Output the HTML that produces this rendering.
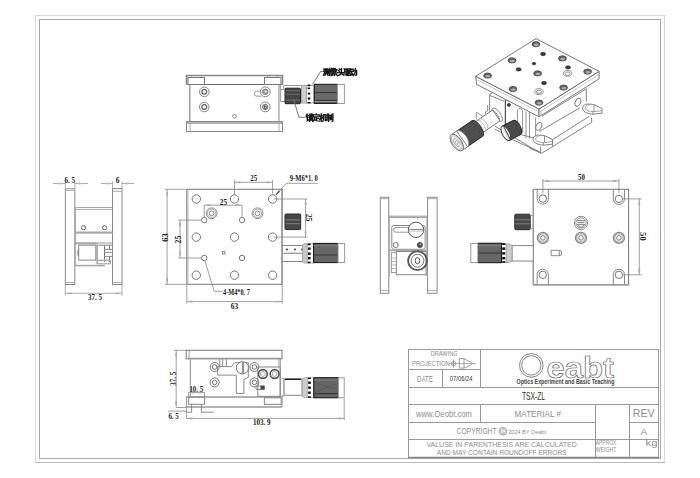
<!DOCTYPE html>
<html><head><meta charset="utf-8">
<style>
html,body{margin:0;padding:0;background:#fff;width:700px;height:478px;overflow:hidden}
svg{display:block}
text{font-family:"Liberation Sans",sans-serif}
.dm text{font-family:"Liberation Serif",serif;font-weight:bold;font-size:9.2px;fill:#1a1a1a}
.cad text{font-family:"Liberation Sans",sans-serif;fill:#8c8c8c}
</style></head><body>
<svg width="700" height="478" viewBox="0 0 700 478">
<rect width="700" height="478" fill="#fff"/>
<!-- frames -->
<rect x="35.5" y="15.5" width="629" height="447" fill="none" stroke="#d8d8d8" stroke-width="1"/>
<line x1="35" y1="462.5" x2="665" y2="462.5" stroke="#bbb"/>
<rect x="39.5" y="19.5" width="621" height="439" fill="none" stroke="#aaa" stroke-width="1"/>

<!-- VIEW 1: top elevation with micrometer -->
<g id="v1" fill="none" stroke="#777" stroke-width="1">
  <!-- top plate -->
  <path d="M186.5 84.5 V75.5 H282.5 V84.5" stroke="#888" stroke-width="1.6"/>
  <line x1="186.5" y1="84.5" x2="282.5" y2="84.5" stroke="#666"/>
  <rect x="188" y="77.5" width="16.5" height="7"/>
  <rect x="264.5" y="77.5" width="16.5" height="7"/>
  <path d="M191.5 75.5 V77.5 M201.5 75.5 V77.5 M267.5 75.5 V77.5 M277.5 75.5 V77.5" stroke="#999"/>
  <!-- body -->
  <line x1="189.8" y1="84.5" x2="189.8" y2="121.5" stroke="#999" stroke-width="1.4"/>
  <line x1="279" y1="84.5" x2="279" y2="121.5" stroke="#888"/>
  <!-- bottom plate -->
  <rect x="186.5" y="121.5" width="96" height="10" stroke="#888"/>
  <line x1="186.5" y1="123" x2="282.5" y2="123" stroke="#999" stroke-width="1.5"/>
  <line x1="190" y1="123" x2="190" y2="131.5" stroke="#aaa"/>
  <line x1="279" y1="123" x2="279" y2="131.5" stroke="#aaa"/>
  <!-- holes -->
  <g stroke="#666">
    <circle cx="204.3" cy="91.8" r="4.8" stroke="#888"/><circle cx="204.3" cy="91.8" r="2.4" stroke-width="1.3"/>
    <circle cx="204.3" cy="107" r="4.8" stroke="#888"/><circle cx="204.3" cy="107" r="2.4" stroke-width="1.3"/>
    <circle cx="265.3" cy="91.8" r="4.9" fill="#fff" stroke="#888"/><circle cx="265.3" cy="91.8" r="2.7" fill="#aaa" stroke="#777"/><circle cx="265.8" cy="91.6" r="0.9" fill="#eee" stroke="none"/>
    <circle cx="265.2" cy="106.9" r="4.9" stroke="#888"/><circle cx="265.2" cy="106.9" r="2.7" fill="#bbb" stroke="#777"/><path d="M264.6 105.3 V108.4 M264.6 106.5 A1.2 1.2 0 1 1 264.6 108.6" stroke="#444" stroke-width="0.8"/>
  </g>
  <path d="M261 91.2 H256.8 A2.5 2.5 0 0 0 256.8 96.2 H261.5" stroke="#999"/>
  <circle cx="234.5" cy="116.3" r="1.8" stroke="#888"/>
  <!-- micrometer -->
  <path d="M280.6 84.5 V101.5 H285 M280.6 89.5 H283.6 V85.5 H302.6" stroke="#999"/>
  <rect x="285" y="88.2" width="15.5" height="15.5" rx="1" fill="#444" stroke="#222"/>
  <path d="M285.5 90.8 H300 M285.5 94.3 H300 M285.5 100.2 H300" stroke="#777" stroke-width="0.8"/>
  <rect x="301.5" y="85.5" width="5" height="17.5" fill="#ccc" stroke="#aaa"/>
  <rect x="306.5" y="85.5" width="7.3" height="17.5" fill="#fff" stroke="#aaa"/>
  <g fill="#111" stroke="none">
    <rect x="307.5" y="84.6" width="3" height="1.6"/>
    <rect x="307.5" y="87.5" width="2.6" height="1.6"/>
    <ellipse cx="309" cy="93.6" rx="1.3" ry="1.2"/>
    <ellipse cx="309" cy="98.5" rx="1.3" ry="1.2"/>
    <rect x="307.5" y="102" width="3" height="1.4"/>
  </g>
  <circle cx="302.2" cy="100.8" r="0.9" fill="#e0b000" stroke="none"/>
  <rect x="314.3" y="84.3" width="23.2" height="19.1" fill="#6a6a6a" stroke="#111"/>
  <path d="M314.3 92.6 H337.5 M314.3 100.3 H337.5" stroke="#333"/>
  <path d="M314.3 101.6 H337.5" stroke="#999" stroke-width="0.8"/>
  <rect x="337.5" y="84.5" width="6.9" height="19" fill="#fff" stroke="#999"/>
  <!-- leaders -->
  <path d="M322.8 71.5 H320.6 L312.6 84.3" stroke="#777"/>
  <path d="M293.5 99 L299 117.3 H304.8" stroke="#777"/>
</g>

<!-- chinese labels -->
<g fill="none" stroke="#1a1a1a" stroke-width="1.35" stroke-linecap="square">
  <!-- 测 -->
  <g transform="translate(323.2,68.2)">
    <path d="M0.6 0.8 L1.2 1.4 M0.4 2.8 L1 3.4 M0.2 7 L1.3 4.6 M2 0.7 H4.2 V5.2 H2 Z M3.1 1.6 V4.4 M2.5 5.4 L1.7 7.2 M3.8 5.4 L4.6 7 M5.4 1.2 V5 M6.5 0.3 V7.2 L5.8 7"/>
  </g>
  <!-- 微 -->
  <g transform="translate(330.2,68.2)">
    <path d="M1.3 0.3 L0.3 1.8 M1.4 2.2 L0.2 3.8 M0.9 3 V7.4 M2.2 0.4 V1.8 H4 V0.4 M3.1 0.2 V1.8 M1.9 2.8 H4.2 M2.5 3.7 V5.5 L2 7 M2.5 3.7 H3.8 V6.8 H4.2 M5.2 0.3 L4.6 2.2 M4.9 1.5 H6.9 M6.3 1.6 Q6 5 4.4 7.2 M5 3.6 L6.9 7.2"/>
  </g>
  <!-- 头 -->
  <g transform="translate(337.2,68.2)">
    <path d="M2.1 0.7 L2.9 1.5 M1.5 2.4 L2.3 3.3 M0.3 4.4 H6.8 M4.3 0.2 V4.4 Q3.8 6.6 0.6 7.4 M4.7 5.6 L6.6 7.2"/>
  </g>
  <!-- 驱 -->
  <g transform="translate(343.8,68.2)">
    <path d="M0.4 0.6 H2.6 L2.4 3.2 M0.8 0.6 V3.8 H3 V6.5 Q3 7.3 2.2 7 M0.3 5.6 H2.3 M6.8 0.6 H3.9 V7.1 H6.9 M4.5 2 L6.5 5.8 M6.3 2 L4.5 5.8"/>
  </g>
  <!-- 动 -->
  <g transform="translate(350,68.2)">
    <path d="M0.5 1 H3 M0.2 3 H3.3 M1.8 3 L0.5 6.5 H3.2 M2.6 5.2 L3.3 6.8 M3.8 2.3 H6.6 V6.5 Q6.6 7.3 5.8 7 M5.3 0.3 V3.5 Q5 6 3.6 7.3"/>
  </g>
  <!-- 锁 -->
  <g transform="translate(306,113.8)">
    <path d="M1.2 0.3 L0.2 2 M0.6 1.6 H2.3 M0.3 3.3 H2.2 M1.3 1.6 V6.9 L2.4 6.1 M3.8 0.4 L4.3 1.3 M5.3 0.2 V1.7 M6.8 0.4 L6.3 1.3 M3.7 2 H6.6 V6.2 H3.7 Z M3.7 3.4 H6.6 M3.7 4.8 H6.6 M4.4 6.3 L3.4 7.6 M5.8 6.3 L6.9 7.6"/>
  </g>
  <!-- 定 -->
  <g transform="translate(312.8,113.8)">
    <path d="M3.5 0.2 V1 M0.5 2.2 V1 H6.5 V2.2 M1.2 3 H5.8 M3.5 3 V6.6 M3.5 4.8 H5.6 M1.8 4 Q1.8 6.3 0.2 7.5 M1.8 6.3 Q3 7.3 6.8 7.3"/>
  </g>
  <!-- 机 -->
  <g transform="translate(319.6,113.8)">
    <path d="M0.2 2 H3 M1.6 0.2 V7.6 M1.6 2.5 L0.2 5.6 M1.8 3 L2.9 4.3 M3.9 0.8 V5 Q3.9 6.5 3.1 7.4 M3.9 0.8 H5.6 V6.8 H6.9 V5.8"/>
  </g>
  <!-- 制 -->
  <g transform="translate(326.4,113.8)">
    <path d="M1 0.3 L0.5 1.5 M0.3 1.6 H4 M0.2 3 H4.2 M2.2 0.3 V7.6 M0.6 4.3 V6.3 M0.6 4.3 H3.8 V6.1 M5.1 1.2 V5.6 M6.5 0.2 V7 L5.7 7.5"/>
  </g>
</g>

<!-- VIEW 3: plan view -->
<g id="v3" fill="none" stroke="#777" stroke-width="1">
  <rect x="186.8" y="189.3" width="95.2" height="95" stroke="#777"/>
  <line x1="187.8" y1="190" x2="187.8" y2="284" stroke="#bbb" stroke-width="1.2"/>
  <line x1="282.2" y1="189" x2="282.2" y2="284.5" stroke="#999" stroke-width="1.3"/>
  <g stroke="#777">
    <circle cx="196.3" cy="199" r="4.2"/><circle cx="234.5" cy="199" r="4.2"/><circle cx="272.6" cy="199" r="4.2"/>
    <circle cx="196.3" cy="237.1" r="4.2"/><circle cx="234.5" cy="237.1" r="4.2"/><circle cx="272.6" cy="237.1" r="4.2"/>
    <circle cx="196.3" cy="275.2" r="4.2"/><circle cx="234.5" cy="275.2" r="4.2"/><circle cx="272.6" cy="275.2" r="4.2"/>
    <circle cx="204.2" cy="220.1" r="2.7"/><circle cx="242.1" cy="220.1" r="2.7"/>
    <circle cx="204.3" cy="258" r="2.7"/><circle cx="242" cy="258" r="2.7"/>
  </g>
  <g stroke="#888">
    <circle cx="211.6" cy="213.3" r="5.4"/><circle cx="211.6" cy="213.3" r="4.2" stroke="#aaa"/><circle cx="211.6" cy="213.3" r="2.4"/>
    <circle cx="257.5" cy="213.3" r="5.4"/><circle cx="257.5" cy="213.3" r="4.2" stroke="#aaa"/><circle cx="257.5" cy="213.3" r="2.4"/>
  </g>
  <rect x="222.5" y="251.6" width="2.4" height="2.4" stroke="#888"/>
  <!-- dims -->
  <g stroke="#888" stroke-width="0.8">
    <path d="M165 189.3 H186 M165 284.3 H186 M167.1 189.3 V284.3"/>
    <path d="M178 220.1 H201.5 M178 258 H201.6 M180 220.1 V258"/>
    <path d="M204.2 205.2 V217.4 M242.1 205.2 V217.4 M204.2 205.2 H242.1"/>
    <path d="M234.5 180 V194.8 M272.6 180 V194.8 M234.5 182.3 H272.6"/>
    <path d="M318 183.3 H286.2 L275.5 195.5"/>
    <path d="M276 194.9 L278.6 190.9 L279.6 191.7 Z" fill="#444" stroke="#444" stroke-width="0.6"/>
    <path d="M273.8 199 H307.5 M273.8 237.1 H307.5 M305.6 199 V237.5"/>
    <path d="M186.8 285 V303.5 M282.2 285 V303.5 M186.8 301.6 H282.2"/>
    <path d="M205 260.8 L214.2 291.3 H222.5"/>
  </g>
  <!-- lock knob -->
  <rect x="285" y="214" width="15.7" height="15.6" rx="1" fill="#474747" stroke="#2a2a2a"/>
  <path d="M285.5 219.9 H300.2 M285.5 223.7 H300.2" stroke="#888" stroke-width="0.9"/>
  <!-- micrometer -->
  <rect x="282.3" y="245.5" width="21" height="16" fill="#fff" stroke="#888"/>
  <path d="M283 253.4 H302" stroke="#999"/>
  <path d="M285 252.5 l1 1 1-1 1 1 1-1 1 1 1-1 1 1 1-1 1 1 1-1 1 1 1-1 1 1 1-1 1 1 1-1" stroke="#999" stroke-width="0.7"/>
  <path d="M287 248.5 l1 1.5 -2 0z M295 248.5 l1 1.5 -2 0z M302 248.5 l1 1.5 -2 0z" fill="#333" stroke="#333" stroke-width="0.5"/>
  <path d="M302.6 245 L304 243.8 H307.4 V263 H304 L302.6 262 Z" fill="#c8c8c8" stroke="#999" stroke-width="0.8"/>
  <rect x="307.4" y="243.8" width="6.2" height="19.2" fill="#fff" stroke="#aaa" stroke-width="0.8"/>
  <g fill="#111" stroke="none">
    <rect x="307.8" y="243.4" width="2.8" height="1.8"/>
    <rect x="308" y="247.5" width="2.6" height="2.2"/>
    <rect x="308" y="252.5" width="2.6" height="2.4"/>
    <rect x="308" y="257" width="2.6" height="2.4"/>
    <rect x="307.8" y="261.6" width="2.8" height="1.6"/>
  </g>
  <rect x="313.6" y="243.4" width="24.4" height="19.2" fill="#666" stroke="#111"/>
  <path d="M313.6 255 H338" stroke="#333"/>
  <path d="M313.6 245.8 H338" stroke="#888" stroke-width="0.8"/>
  <rect x="338" y="243.5" width="6.6" height="19" fill="#fff" stroke="#999"/>
</g>

<!-- VIEW 2: left side -->
<g id="v2" fill="none" stroke="#777" stroke-width="1">
  <rect x="65.3" y="188.8" width="9.5" height="95.7" stroke="#888"/>
  <line x1="65.3" y1="282.6" x2="74.8" y2="282.6" stroke="#aaa"/>
  <line x1="65.3" y1="190.5" x2="74.8" y2="190.5" stroke="#bbb"/>
  <rect x="112.5" y="188.6" width="9.5" height="95.9" stroke="#888"/>
  <line x1="112.5" y1="191.3" x2="122" y2="191.3" stroke="#aaa"/>
  <line x1="112.5" y1="282.6" x2="122" y2="282.6" stroke="#aaa"/>
  <line x1="75.6" y1="207" x2="75.6" y2="266" stroke="#aaa"/>
  <path d="M74.8 207.5 H112.5 M74.8 209.4 H112.5" stroke="#aaa"/>
  <circle cx="83.6" cy="227.7" r="2.1" stroke="#666"/>
  <circle cx="104.5" cy="227.7" r="2.1" stroke="#666"/>
  <line x1="74.8" y1="232.6" x2="112.5" y2="232.6" stroke="#aaa" stroke-width="2.2"/>
  <path d="M74.8 243.3 H97.8" stroke="#aaa" stroke-width="2.2"/>
  <path d="M97.8 243 H112.5" stroke="#aaa" stroke-width="1.2"/>
  <rect x="78.7" y="245.2" width="17.1" height="14.9" stroke="#888"/>
  <path d="M78.7 249 Q77 252.5 78.7 256" stroke="#888" stroke-width="1.2"/>
  <path d="M97.1 245.2 V264 M104.5 245.2 V262 M109.5 245.2 V249.4 M109.5 256.4 V262" stroke="#777"/>
  <path d="M97.1 245.2 H112 M104.5 249.4 H112.5 M104.5 252.4 H112.5 M104.5 256.4 H112.5" stroke="#888"/>
  <path d="M97 260.4 H110.5" stroke="#aaa" stroke-width="1.6"/>
  <path d="M97 263.8 H110.5 V260" stroke="#999"/>
  <path d="M74.8 265.6 H105" stroke="#aaa" stroke-width="1.6"/>
  <g stroke="#999" stroke-width="0.8">
    <path d="M65.3 188 V181.5 M74.8 188 V181.5 M53 183.5 H65.3 M74.8 183.5 H88"/>
    <path d="M112.5 188 V181.5 M122 188 V181.5 M101 183.5 H112.5 M122 183.5 H134"/>
    <path d="M65.3 285 V295.5 M122 285 V295.5 M65.3 293.3 H122"/>
  </g>
  <g fill="#bbb" stroke="none">
    <ellipse cx="60.5" cy="183.5" rx="2" ry="0.9"/><ellipse cx="79.5" cy="183.5" rx="2" ry="0.9"/>
    <ellipse cx="107.5" cy="183.5" rx="2" ry="0.9"/><ellipse cx="127" cy="183.5" rx="2" ry="0.9"/>
  </g>
</g>

<!-- VIEW 4: right side -->
<g id="v4" fill="none" stroke="#777" stroke-width="1">
  <rect x="380.3" y="197.3" width="8.5" height="96" stroke="#888"/>
  <line x1="380.3" y1="198.7" x2="388.8" y2="198.7" stroke="#aaa"/>
  <line x1="380.3" y1="290.3" x2="388.8" y2="290.3" stroke="#aaa"/>
  <rect x="427.6" y="197.3" width="9.5" height="96" stroke="#888"/>
  <line x1="427.6" y1="198.7" x2="437.1" y2="198.7" stroke="#aaa"/>
  <line x1="427.6" y1="290.3" x2="437.1" y2="290.3" stroke="#aaa"/>
  <path d="M388.8 216.2 H427.6 M388.8 217.4 H427.6" stroke="#999"/>
  <path d="M389.6 217 V276 M426.8 217 V276" stroke="#aaa"/>
  <rect x="391.8" y="225.5" width="33.4" height="23.8" rx="2" stroke="#888"/>
  <path d="M413.5 227.4 H396 A2.4 2.4 0 0 0 396 232.2 H413.5" stroke="#999"/>
  <circle cx="416" cy="229.8" r="7.7" fill="#fff" stroke="#555"/>
  <path d="M408.5 229.4 H423.5" stroke="#888"/>
  <path d="M408.6 231 H423.4" stroke="#bbb"/>
  <circle cx="395.7" cy="245" r="2.5" stroke="#777"/>
  <circle cx="419.9" cy="245" r="2.5" fill="#555" stroke="#444"/>
  <circle cx="420.4" cy="244.4" r="0.8" fill="#ccc" stroke="none"/>
  <line x1="390" y1="250.4" x2="426.5" y2="250.4" stroke="#aaa" stroke-width="1.6"/>
  <rect x="396.4" y="251.5" width="29.6" height="23.2" stroke="#888"/>
  <rect x="391.4" y="252.6" width="5" height="19.9" stroke="#999"/>
  <path d="M391.4 258 H396.4 M391.4 261.5 H396.4 M391.4 265 H396.4 M391.4 268.5 H396.4" stroke="#aaa" stroke-width="0.8"/>
  <circle cx="417.5" cy="260.7" r="9.4" stroke="#5a5a5a" stroke-width="1.9"/>
  <circle cx="417.5" cy="260.7" r="6.4" stroke="#777"/>
  <ellipse cx="417.5" cy="260.7" rx="2.3" ry="3.1" stroke="#555"/>
  <path d="M417.8 218.5 V219.8" stroke="#aaa"/>
</g>

<!-- VIEW 5: rear -->
<g id="v5" fill="none" stroke="#777" stroke-width="1">
  <rect x="533.3" y="189.3" width="95.3" height="95.5" stroke="#777"/>
  <line x1="533.3" y1="189" x2="533.3" y2="285" stroke="#999" stroke-width="1.3"/>
  <line x1="533" y1="284.8" x2="629" y2="284.8" stroke="#999" stroke-width="1.4"/>
  <g stroke="#888">
    <path d="M537.2 189.3 V198.6 A5.6 5.6 0 0 0 548.4 198.6 V189.3"/>
    <path d="M613.3 189.3 V198.9 A5.6 5.6 0 0 0 624.5 198.9 V189.3"/>
    <path d="M537.1 284.8 V274.8 A5.6 5.6 0 0 1 548.3 274.8 V284.8"/>
    <path d="M613.3 284.8 V274.8 A5.6 5.6 0 0 1 624.5 274.8 V284.8"/>
  </g>
  <g stroke="#777">
    <circle cx="542.8" cy="198.6" r="3.7"/><circle cx="618.9" cy="198.9" r="3.7"/>
    <circle cx="542.7" cy="274.8" r="3.7"/><circle cx="618.9" cy="274.8" r="3.7"/>
  </g>
  <circle cx="581" cy="222.9" r="6.6" stroke="#888"/>
  <circle cx="581" cy="222.9" r="5.1" stroke="#999"/>
  <path d="M577 220.7 H585 M577 224.7 H585 M577.5 222.7 H584.5" stroke="#777"/>
  <path d="M577.8 224.7 A3.3 3.3 0 0 0 584.2 224.7" stroke="#888"/>
  <g>
    <circle cx="542.9" cy="237.9" r="5.5" stroke="#888" stroke-width="1.3"/><circle cx="542.9" cy="237.9" r="4.2" stroke="#999"/><circle cx="542.9" cy="237.9" r="2.3" stroke="#777"/>
    <circle cx="581" cy="237.9" r="5.5" stroke="#888" stroke-width="1.3"/><circle cx="581" cy="237.9" r="4.2" stroke="#999"/><circle cx="581" cy="237.9" r="2.3" stroke="#777"/>
    <circle cx="618.9" cy="237.9" r="5.5" stroke="#888" stroke-width="1.3"/><circle cx="618.9" cy="237.9" r="4.2" stroke="#999"/><circle cx="618.9" cy="237.9" r="2.3" stroke="#777"/>
  </g>
  <path d="M551.1 250.3 H559.3 A2.4 2.7 0 0 1 559.3 255.7 H551.1 Z M559.3 250.3 V255.7" stroke="#888"/>
  <!-- dims -->
  <g stroke="#888" stroke-width="0.8">
    <path d="M542.9 179 V193 M618.9 179 V193 M542.9 181 H618.9"/>
    <path d="M623 198.9 H641.5 M623 274.8 H641.5 M639.3 198.9 V274.8"/>
  </g>
  <!-- lock knob -->
  <rect x="514.8" y="214.2" width="15.4" height="15.5" rx="1" fill="#474747" stroke="#2a2a2a"/>
  <path d="M515.3 219.8 H529.8 M515.3 223.8 H529.8" stroke="#888" stroke-width="0.9"/>
  <path d="M530.2 215.5 H533.3 M530.2 228.5 H533.3" stroke="#999"/>
  <!-- micrometer -->
  <rect x="512" y="245.6" width="21.3" height="15.4" fill="#fff" stroke="#888"/>
  <path d="M506 244 H509.5 L512 245.6 V261 L509.5 262.6 H506 Z" fill="#ccc" stroke="#999" stroke-width="0.8"/>
  <rect x="501.6" y="243.4" width="4.4" height="19.2" fill="#fff" stroke="#aaa" stroke-width="0.8"/>
  <g fill="#111" stroke="none">
    <rect x="502.2" y="243.2" width="3.2" height="1.8"/>
    <rect x="502.2" y="247.4" width="3" height="2.4"/>
    <rect x="502.2" y="252.2" width="3" height="2.4"/>
    <rect x="502.2" y="257" width="3" height="2.4"/>
    <rect x="502.2" y="261.2" width="3.2" height="1.6"/>
  </g>
  <rect x="477.9" y="243.2" width="23.7" height="19.5" fill="#666" stroke="#111"/>
  <path d="M477.9 253 H501.6" stroke="#333"/>
  <path d="M477.9 245.6 H501.6" stroke="#888" stroke-width="0.8"/>
  <rect x="470.8" y="243.5" width="7.1" height="19" fill="#fff" stroke="#999"/>
</g>

<!-- VIEW 6: bottom elevation -->
<g id="v6" fill="none" stroke="#777" stroke-width="1">
  <rect x="186.2" y="350.3" width="95.8" height="8.4" stroke="#777"/>
  <line x1="186.2" y1="358.6" x2="282" y2="358.6" stroke="#999" stroke-width="1.5"/>
  <line x1="189.1" y1="350.3" x2="189.1" y2="358.6" stroke="#999"/>
  <line x1="190.4" y1="359" x2="190.4" y2="397" stroke="#aaa" stroke-width="1.4"/>
  <line x1="280.2" y1="359" x2="280.2" y2="397" stroke="#888"/>
  <line x1="278.8" y1="359" x2="278.8" y2="367" stroke="#aaa"/>
  <!-- base -->
  <line x1="186.4" y1="397" x2="282" y2="397" stroke="#999" stroke-width="1.5"/>
  <line x1="186.4" y1="406.9" x2="282" y2="406.9" stroke="#999" stroke-width="1.5"/>
  <line x1="186.4" y1="396" x2="186.4" y2="418.4" stroke="#999"/>
  <line x1="282" y1="396" x2="282" y2="407" stroke="#888"/>
  <rect x="188.6" y="397" width="16" height="7.3" stroke="#888"/>
  <rect x="264.4" y="397.8" width="16.8" height="6.6" stroke="#888"/>
  <path d="M191.6 404.3 V412.2 H186.4 M201.4 404.3 V412.2 H213.8" stroke="#888"/>
  <!-- internal -->
  <g stroke="#777">
    <circle cx="214.6" cy="367" r="4.5"/><circle cx="214.6" cy="367" r="2.3"/>
    <circle cx="214.6" cy="382.4" r="4.5"/><circle cx="214.6" cy="382.4" r="2.3"/>
    <circle cx="254.4" cy="367" r="4.5"/><circle cx="254.4" cy="367" r="2.3"/>
    <circle cx="254.4" cy="382.4" r="4.5"/><circle cx="254.4" cy="382.4" r="2.3"/>
  </g>
  <path d="M219.8 359 V366.6 M222.7 359 V366.6 M226.3 359 V366.6" stroke="#888"/>
  <path d="M217.6 366.6 H231.5 L234.4 362.7 H248.3 V377.3 L243.9 379.5 V393.4 H236.3 V375.1 H217.6 Z" stroke="#888"/>
  <circle cx="242.4" cy="367.8" r="6.1" fill="#fff" stroke="#777"/>
  <path d="M242.4 362 V373.6 M243.6 362.2 V373.4" stroke="#888"/>
  <rect x="257.8" y="367" width="22.4" height="29.3" stroke="#888"/>
  <circle cx="262.9" cy="374" r="4.4" stroke="#555" stroke-width="1.6"/><circle cx="262.9" cy="374" r="2.4" stroke="#aaa"/>
  <circle cx="274.6" cy="374" r="4.4" stroke="#555" stroke-width="1.6"/><circle cx="274.6" cy="374" r="2.4" stroke="#aaa"/>
  <path d="M256 386 H261 V389.5 H256 Z" stroke="#888"/>
  <rect x="261.2" y="386" width="3" height="3.2" fill="#444" stroke="#444"/>
  <!-- micrometer -->
  <path d="M282 378.5 H284.1 V395.8 H282" stroke="#999"/>
  <rect x="284.1" y="379.2" width="18" height="16.1" fill="#fff" stroke="#888"/>
  <line x1="285" y1="379.2" x2="301" y2="379.2" stroke="#111" stroke-width="1.4"/>
  <path d="M302.1 379 L304 377.8 H307.4 V397.6 H304 L302.1 396 Z" fill="#ccc" stroke="#999" stroke-width="0.8"/>
  <rect x="307.4" y="377.8" width="6.2" height="19.8" fill="#fff" stroke="#aaa" stroke-width="0.8"/>
  <g fill="#111" stroke="none">
    <rect x="308" y="377.5" width="2.8" height="1.6"/>
    <rect x="308.2" y="381.5" width="2.6" height="2.4"/>
    <rect x="308.2" y="386.5" width="2.6" height="2.4"/>
    <rect x="308.2" y="391.5" width="2.6" height="2.4"/>
    <rect x="308" y="396.3" width="2.8" height="1.6"/>
  </g>
  <rect x="313.8" y="377.7" width="24.5" height="20.1" fill="#666" stroke="#111"/>
  <path d="M313.8 380 H338.3" stroke="#888" stroke-width="0.8"/>
  <path d="M315 383 L336 389 M315 392 L336 384" stroke="#555" stroke-width="0.8"/>
  <path d="M313.8 393.6 H338.3" stroke="#333"/>
  <rect x="338.3" y="377.8" width="5.9" height="19.9" fill="#fff" stroke="#999"/>
  <!-- dims -->
  <g stroke="#888" stroke-width="0.8">
    <path d="M174 350.3 H186 M176.2 350.3 V407.5 H186.4"/>
    <path d="M188.6 392.5 H204.6 M188.6 392.5 V397 M204.6 392.5 V397"/>
    <path d="M168 411.1 H186.4"/>
    <path d="M186.4 418.4 H344.2 M344.2 398.5 V420"/>
  </g>
</g>

<!-- VIEW 7: isometric -->
<g id="v7" fill="none" stroke="#666" stroke-width="0.9" stroke-linejoin="round">
  <!-- base (lower) -->
  <g stroke="#777">
    <path d="M495 126.3 L541 153.3 M495 129.2 L512 138.5 M512.3 139.5 L539.9 152.2"/>
    <path d="M540.7 153.3 V147 M541.5 153.3 L552.6 146.6 L591.6 122.4 V117.5"/>
    <path d="M552.6 139.5 L589 116.5"/>
    <path d="M552.6 139.5 V146.6"/>
    <!-- front U ear -->
    <path d="M552.5 139.5 L544.5 135.6 Q533 133.3 533 139.3 Q533.8 144.6 543.5 145.2 L552.5 144.2 Z" fill="#fff"/>
    <path d="M544.5 135.6 Q535.5 134.8 535.6 139.5 Q537 142.5 544.5 142.6 L552.5 141.6" stroke="#999"/>
    <path d="M544.5 135.6 V142.6 M543.5 145.2 V142.6" stroke="#888"/>
    <!-- right U ear -->
    <path d="M602 108.5 L594 104.6 Q582.5 102.3 582.5 108.3 Q583.3 113.6 593 114.2 L602 113.2 Z" fill="#fff"/>
    <path d="M594 104.6 Q585 103.8 585.1 108.5 Q586.5 111.5 594 111.6 L602 110.6" stroke="#999"/>
    <path d="M594 104.6 V111.6 M593 114.2 V111.6" stroke="#888"/>
    <path d="M530 148.4 L540.7 152.8"/>
  </g>
  <!-- body -->
  <g stroke="#777">
    <path d="M541.9 116.2 L586.3 88.8 V101.5"/>
    <path d="M539.4 131.4 L580.3 107.5"/>
    <path d="M489.7 94.2 V112.2 M489.7 95.4 L504.3 101.3 M489.7 94.2 L492.6 92.5"/>
    <path d="M505.4 100 V127" stroke="#555" stroke-width="1.3"/>
    <path d="M505 100 L536.3 109.6" />
    <path d="M517.4 110 V133.2 M522.6 110.6 V133.2 M517.4 110 Q520 106.8 522.6 110.6" stroke="#888"/>
    <path d="M526 111.3 V138.4 M529.5 112.3 V138.4" stroke="#888"/>
    <path d="M535.6 117.5 V136.5" stroke="#888"/>
    <path d="M522 134.9 L533 137.8"/>
    <ellipse cx="538.8" cy="126.4" rx="2.6" ry="4.1" transform="rotate(25 538.8 126.4)" fill="#fff"/>
    <ellipse cx="577.9" cy="102.3" rx="2.6" ry="4.1" transform="rotate(25 577.9 102.3)" fill="#fff"/>
    <circle cx="508.9" cy="104.9" r="1.5" fill="#444" stroke="#333"/>
    <path d="M476.3 112.2 V119.5 M476.3 112.2 L483 116.4 M487.6 105 V111 L485.5 111.8 V114" stroke="#888"/>
  </g>
  <!-- top plate -->
  <path d="M475.7 76.3 L539 109 V116.8 L476.5 84.3 Z" fill="#fff" stroke="#666"/>
  <path d="M539 109 L599.1 71.3 V78.8 L539 116.8 Z" fill="#fff" stroke="#666"/>
  <path d="M536 38.6 L475.7 76.3 L539 109 L599.1 71.3 Z" fill="#fff" stroke="#666"/>
  <path d="M476.3 79.4 L539.2 112 L599.1 74.5" stroke="#bbb" stroke-width="0.8"/>
  <path d="M541 109.5 V116" stroke="#999" stroke-width="0.6"/>
  <!-- holes -->
  <g fill="#666" stroke="#444" stroke-width="0.8">
    <ellipse cx="536" cy="44.2" rx="3.9" ry="2.6"/>
    <ellipse cx="512" cy="60.4" rx="3.9" ry="2.6"/>
    <ellipse cx="562.4" cy="58.4" rx="3.9" ry="2.6"/>
    <ellipse cx="487.6" cy="75.6" rx="3.9" ry="2.6"/>
    <ellipse cx="537.6" cy="73.4" rx="3.9" ry="2.6"/>
    <ellipse cx="587.6" cy="71.6" rx="3.9" ry="2.6"/>
    <ellipse cx="513" cy="89" rx="3.9" ry="2.6"/>
    <ellipse cx="563.6" cy="87.6" rx="3.9" ry="2.6"/>
    <ellipse cx="539" cy="102.6" rx="3.9" ry="2.6"/>
  </g>
  <g fill="#aaa" stroke="none">
    <ellipse cx="536.3" cy="44.9" rx="2.4" ry="1.3"/>
    <ellipse cx="512.3" cy="61.1" rx="2.4" ry="1.3"/>
    <ellipse cx="562.7" cy="59.1" rx="2.4" ry="1.3"/>
    <ellipse cx="487.9" cy="76.3" rx="2.4" ry="1.3"/>
    <ellipse cx="537.9" cy="74.1" rx="2.4" ry="1.3"/>
    <ellipse cx="587.9" cy="72.3" rx="2.4" ry="1.3"/>
    <ellipse cx="513.3" cy="89.7" rx="2.4" ry="1.3"/>
    <ellipse cx="563.9" cy="88.3" rx="2.4" ry="1.3"/>
    <ellipse cx="539.3" cy="103.3" rx="2.4" ry="1.3"/>
  </g>
  <g fill="#3a3a3a" stroke="#222" stroke-width="0.6">
    <ellipse cx="543" cy="54" rx="2.5" ry="1.7"/>
    <ellipse cx="534" cy="63.6" rx="1.7" ry="1.3"/>
    <ellipse cx="518.6" cy="69.4" rx="2.5" ry="1.7"/>
    <ellipse cx="568" cy="67.4" rx="2.5" ry="1.7"/>
    <ellipse cx="544" cy="83" rx="2.5" ry="1.7"/>
  </g>
  <g fill="#fff" stroke="#777" stroke-width="0.8">
    <ellipse cx="567.6" cy="73.4" rx="4.2" ry="2.9"/><ellipse cx="567.6" cy="73.6" rx="2.6" ry="1.6"/>
    <ellipse cx="539" cy="91.6" rx="4.2" ry="2.9"/><ellipse cx="539" cy="91.8" rx="2.6" ry="1.6"/>
  </g>
  <!-- micrometer -->
  <g transform="translate(458.4 141.4) rotate(-34.4)">
    <ellipse cx="47" cy="0" rx="3.4" ry="8" fill="#fff" stroke="#888"/>
    <path d="M24 -6.6 H46 V6.6 H24 Z" fill="#fff" stroke="#777"/>
    <path d="M44.5 -6.6 A2.8 6.6 0 0 1 44.5 6.6" stroke="#888"/>
    <path d="M27.5 -6.6 A2.8 6.6 0 0 1 27.5 6.6 M30.5 -6.6 A2.8 6.6 0 0 1 30.5 6.6" stroke="#999" stroke-width="0.7"/>
    <path d="M4 -9.4 H23 V9.4 H4 Z" fill="#4a4a4a" stroke="#222"/>
    <path d="M23 -9.4 A3.8 9.4 0 0 1 23 9.4" fill="#4a4a4a" stroke="#222"/>
    <path d="M5 -7 H25 M5 -4.5 H26 M5 -2 H26.5 M5 0.5 H26.5 M5 3 H26 M5 5.5 H25.5 M5 8 H24" stroke="#5e5e5e" stroke-width="0.6"/>
    <path d="M-2 -9.6 H4.5 V9.6 H-2 Z" fill="#fff" stroke="none"/>
    <path d="M-2 -9.6 H4.5 M-2 9.6 H4.5" stroke="#777"/>
    <path d="M4.5 -9.6 A4.8 9.6 0 0 1 4.5 9.6 Z" stroke="#888" fill="#fff"/>
    <ellipse cx="-2" cy="0" rx="4.8" ry="9.6" fill="#fff" stroke="#666"/>
    <ellipse cx="-2" cy="0" rx="3.9" ry="7.8" fill="none" stroke="#999" stroke-width="0.7"/>
    <ellipse cx="-2" cy="0" rx="2.4" ry="4.6" fill="none" stroke="#888" stroke-width="0.7"/>
    <path d="M-2 -2.2 L-0.9 -1.1 V1.1 L-2 2.2 L-3.1 1.1 V-1.1 Z" stroke="#888" stroke-width="0.6"/>
  </g>
  <!-- lock knob -->
  <g transform="translate(505.8 133.2) rotate(-27)">
    <path d="M0 -8 H12.5 V8 H0 Z" fill="#454545" stroke="#222"/>
    <path d="M12.5 -8 A3.6 8 0 0 1 12.5 8" fill="#454545" stroke="#222"/>
    <path d="M1 -5.5 H14.5 M1 -3 H15.5 M1 -0.5 H16 M1 2 H15.8 M1 4.5 H15 M1 6.8 H14" stroke="#5a5a5a" stroke-width="0.6"/>
    <ellipse cx="0" cy="0" rx="3.6" ry="8" fill="#fff" stroke="#333"/>
    <path d="M1.2 -7.6 V7.6" stroke="#333" stroke-width="0.9"/>
    <path d="M-0.3 -7 V7" stroke="#bbb" stroke-width="0.5"/>
  </g>

</g>

<g fill="#aaa" stroke="none">
<ellipse cx="167.1" cy="193.8" rx="0.9" ry="2.2"/><ellipse cx="167.1" cy="279.8" rx="0.9" ry="2.2"/>
<ellipse cx="180" cy="224.6" rx="0.9" ry="2.2"/><ellipse cx="180" cy="253.5" rx="0.9" ry="2.2"/>
<ellipse cx="208.7" cy="205.2" rx="2.2" ry="0.9"/><ellipse cx="237.6" cy="205.2" rx="2.2" ry="0.9"/>
<ellipse cx="239.0" cy="182.3" rx="2.2" ry="0.9"/><ellipse cx="268.1" cy="182.3" rx="2.2" ry="0.9"/>
<ellipse cx="305.6" cy="203.5" rx="0.9" ry="2.2"/><ellipse cx="305.6" cy="232.6" rx="0.9" ry="2.2"/>
<ellipse cx="191.3" cy="301.6" rx="2.2" ry="0.9"/><ellipse cx="277.7" cy="301.6" rx="2.2" ry="0.9"/>
<ellipse cx="69.8" cy="293.3" rx="2.2" ry="0.9"/><ellipse cx="117.5" cy="293.3" rx="2.2" ry="0.9"/>
<ellipse cx="547.4" cy="181" rx="2.2" ry="0.9"/><ellipse cx="614.4" cy="181" rx="2.2" ry="0.9"/>
<ellipse cx="639.3" cy="203.4" rx="0.9" ry="2.2"/><ellipse cx="639.3" cy="270.3" rx="0.9" ry="2.2"/>
<ellipse cx="176.2" cy="354.8" rx="0.9" ry="2.2"/><ellipse cx="176.2" cy="403.0" rx="0.9" ry="2.2"/>
<ellipse cx="193.1" cy="392.5" rx="2.2" ry="0.9"/><ellipse cx="200.1" cy="392.5" rx="2.2" ry="0.9"/>
<ellipse cx="190.9" cy="418.4" rx="2.2" ry="0.9"/><ellipse cx="339.7" cy="418.4" rx="2.2" ry="0.9"/>
</g>
<g class="dm">
  <text x="250.3" y="181" textLength="6.9" lengthAdjust="spacingAndGlyphs">25</text>
  <text x="219.8" y="204.9" textLength="7.3" lengthAdjust="spacingAndGlyphs">25</text>
  <text transform="translate(167.5 241.8) rotate(-90)" textLength="8.4" lengthAdjust="spacingAndGlyphs">63</text>
  <text transform="translate(180.7 243.4) rotate(-90)" textLength="7.8" lengthAdjust="spacingAndGlyphs">25</text>
  <text transform="translate(306.3 214) rotate(90)" textLength="7.4" lengthAdjust="spacingAndGlyphs">25</text>
  <text x="230.8" y="309.1" textLength="7.4" lengthAdjust="spacingAndGlyphs">63</text>
  <text x="289.8" y="181" textLength="27.9" lengthAdjust="spacingAndGlyphs">9-M6*1. 0</text>
  <text x="223" y="295.2" textLength="26.9" lengthAdjust="spacingAndGlyphs">4-M4*0. 7</text>
  <text x="64.6" y="183" textLength="10.4" lengthAdjust="spacingAndGlyphs">6. 5</text>
  <text x="115.7" y="183" textLength="3.7" lengthAdjust="spacingAndGlyphs">6</text>
  <text x="87.9" y="299.8" textLength="14" lengthAdjust="spacingAndGlyphs">37. 5</text>
  <text x="578" y="180" textLength="6.8" lengthAdjust="spacingAndGlyphs">50</text>
  <text transform="translate(640.2 232.1) rotate(90)" textLength="8.6" lengthAdjust="spacingAndGlyphs">50</text>
  <text transform="translate(175.7 385.8) rotate(-90)" textLength="14.1" lengthAdjust="spacingAndGlyphs">37. 5</text>
  <text x="189.4" y="392" textLength="13.7" lengthAdjust="spacingAndGlyphs">10. 5</text>
  <text x="168.4" y="418.8" textLength="10.3" lengthAdjust="spacingAndGlyphs">6. 5</text>
  <text x="253" y="424.9" textLength="17.5" lengthAdjust="spacingAndGlyphs">103. 9</text>
</g>
<!-- TITLE BLOCK -->
<g id="tb" stroke="#999" stroke-width="1" fill="none">
<rect x="408.5" y="349.5" width="250" height="108"/>
<line x1="408" y1="457.5" x2="659" y2="457.5" stroke="#888" stroke-width="1.5"/>
<line x1="408.5" y1="369.5" x2="480.5" y2="369.5"/>
<line x1="480.5" y1="349.5" x2="480.5" y2="387.5"/>
<line x1="442.5" y1="369.5" x2="442.5" y2="387.5"/>
<line x1="408.5" y1="387.5" x2="658.5" y2="387.5"/>
<line x1="408.5" y1="404.5" x2="658.5" y2="404.5"/>
<line x1="480.5" y1="404.5" x2="480.5" y2="422.5"/>
<line x1="408.5" y1="422.5" x2="595.5" y2="422.5"/>
<line x1="629.5" y1="422.5" x2="658.5" y2="422.5"/>
<line x1="408.5" y1="439.5" x2="658.5" y2="439.5"/>
<line x1="595.5" y1="404.5" x2="595.5" y2="457.5"/>
<line x1="629.5" y1="404.5" x2="629.5" y2="457.5"/>
</g>
<g class="cad">
  <text x="430.7" y="355.9" font-size="7" textLength="27" lengthAdjust="spacingAndGlyphs">DRAWING</text>
  <text x="412" y="366" font-size="7" textLength="37.8" lengthAdjust="spacingAndGlyphs">PROJECTION</text>
  <text x="417" y="381.6" font-size="8.7" textLength="15.8" lengthAdjust="spacingAndGlyphs">DATE</text>
  <text x="416" y="417.2" font-size="8.4" textLength="56" lengthAdjust="spacingAndGlyphs">www.Oeobt.com</text>
  <text x="514.6" y="416.7" font-size="9" textLength="46.4" lengthAdjust="spacingAndGlyphs">MATERIAL #</text>
  <text x="456.6" y="434.4" font-size="9" textLength="40" lengthAdjust="spacingAndGlyphs">COPYRIGHT</text>
  <text x="426.4" y="447" font-size="7.8" textLength="150.4" lengthAdjust="spacingAndGlyphs">VALUSE IN PARENTHESIS ARE CALCULATED</text>
  <text x="436.8" y="455.4" font-size="7.8" textLength="129.8" lengthAdjust="spacingAndGlyphs">AND MAY CONTAIN ROUNDOFF ERRORS</text>
  <text x="595.8" y="444.7" font-size="7.2" textLength="20.5" lengthAdjust="spacingAndGlyphs">APPROX</text>
  <text x="595.8" y="452.4" font-size="7.2" textLength="20.5" lengthAdjust="spacingAndGlyphs">WEIGHT</text>
  <text x="632.8" y="417.4" font-size="11" textLength="21.8" lengthAdjust="spacingAndGlyphs">REV</text>
  <text x="643.7" y="434.8" font-size="9.8" text-anchor="middle">A</text>
  <text x="645.6" y="446.2" font-size="9.5" textLength="12" lengthAdjust="spacingAndGlyphs">kg</text>
  <text x="508" y="433.6" font-size="5.6" textLength="38" lengthAdjust="spacingAndGlyphs" fill="#555">2024 BY Oeabt</text>
</g>
<circle cx="503" cy="431.2" r="3.8" fill="none" stroke="#888" stroke-width="0.8"/>
<circle cx="503" cy="431.2" r="2.6" fill="none" stroke="#999" stroke-width="0.6"/>
<path d="M504.4 429.8 A1.6 1.6 0 1 0 504.4 432.6" fill="none" stroke="#888" stroke-width="0.6"/>
<text x="449.8" y="381" font-size="7.4" font-family="Liberation Sans" fill="#333" textLength="22.7" lengthAdjust="spacingAndGlyphs">07/06/24</text>
<text x="521.9" y="399.8" font-size="11.6" font-family="Liberation Serif" fill="#333" textLength="23.2" lengthAdjust="spacingAndGlyphs">TSX-ZL</text>
<!-- projection symbol -->
<g fill="none" stroke="#888" stroke-width="0.8">
  <circle cx="453.5" cy="363.6" r="2.2"/>
  <path d="M449.5 363.6 H457.5 M453.5 359.6 V367.6"/>
  <path d="M459.3 358.6 V368.1 M459.3 358.6 H464 L471.5 362.6 M459.3 368.1 H464 L471.5 364.6 M464 358.6 V368.1"/>
  <path d="M457.5 363.6 H476" stroke="#999"/>
  <path d="M471 362.4 L476 363.6 L471 364.8 Z" fill="#aaa" stroke="none"/>
</g>
<!-- logo -->
<circle cx="531.3" cy="365.4" r="11.8" fill="none" stroke="#666" stroke-width="0.8"/>
<circle cx="531.3" cy="365.4" r="9.7" fill="none" stroke="#666" stroke-width="0.8"/>
<text x="546.5" y="377.8" font-family="Liberation Sans" font-weight="bold" font-size="30" fill="#fff" stroke="#666" stroke-width="0.7" textLength="67.5" lengthAdjust="spacingAndGlyphs">eabt</text>
<text x="516.6" y="384" font-family="Liberation Sans" font-weight="bold" font-size="6.3" fill="#444" textLength="98" lengthAdjust="spacingAndGlyphs">Optics Experiment and Basic Teaching</text>
</svg>
</body></html>
